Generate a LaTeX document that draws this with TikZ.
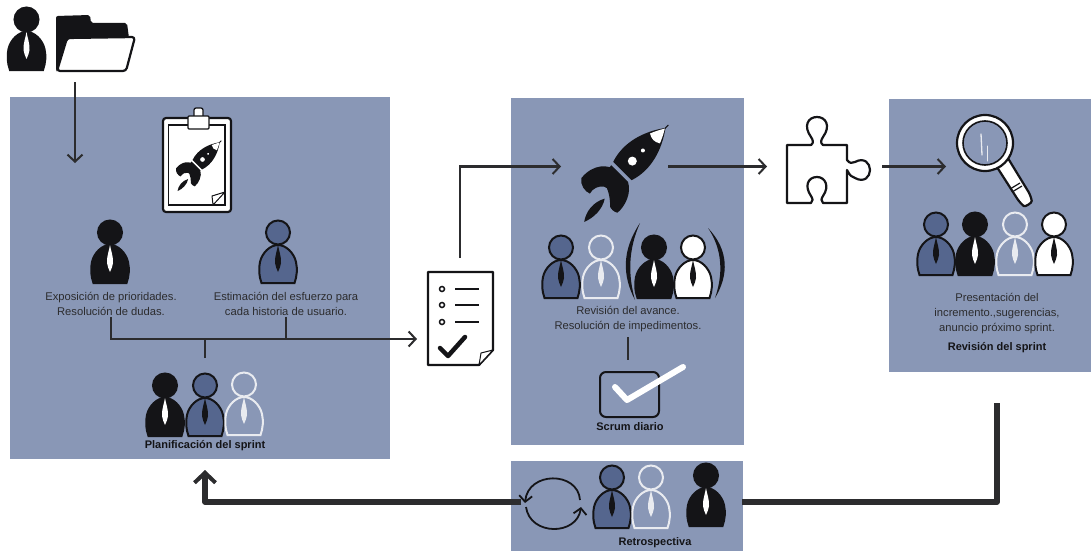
\documentclass[tikz,border=0pt]{standalone}
\usepackage{fontspec}
\setmainfont{Liberation Sans}
\usetikzlibrary{arrows.meta}

\definecolor{panelblue}{HTML}{8997B6}
\definecolor{darkblue}{HTML}{55668E}
\definecolor{ink}{HTML}{141417}
\definecolor{ghost}{HTML}{E9EBF0}

\tikzset{
	panel/.style={fill=panelblue, draw=none, inner sep=0pt, outer sep=0pt},
	iconbox/.style={inner sep=0pt, outer sep=0pt},
	note/.style={font=\fontsize{11.2}{15}\selectfont, text=ink!90, align=center, inner sep=1pt},
	tag/.style={font=\fontsize{11}{12}\selectfont\bfseries, text=ink, inner sep=1pt},
	flow/.style={draw=ink!90, line width=2.2pt, -{Straight Barb[length=7pt,width=15pt,line width=2pt]}},
	tick/.style={draw=ink!90, line width=2pt},
	backflow/.style={draw=ink!90, line width=5.5pt, -{Straight Barb[length=10pt,width=21pt,line width=4pt]}},
	icon/.style={draw=ink, line width=2.2pt, line join=round},
}

% x, y, body, outline, tie
\newcommand{\person}[5]{
	\begin{scope}[shift={(#1,#2)}]
		\draw[fill=#3, draw=#4, line width=2pt] (-16.5,0) .. controls (-19,-7) and (-19.5,-14) .. (-18,-21) .. controls (-16,-30) and (-8,-38) .. (0,-38) .. controls (8,-38) and (16,-30) .. (18,-21) .. controls (19.5,-14) and (19,-7) .. (16.5,0) -- cycle;
		\draw[fill=#3, draw=#4, line width=2pt] (0,-50.5) circle (12);
		\fill[#5] (0,-38) .. controls (-1,-32) and (-3.5,-26) .. (-3,-20) .. controls (-3,-17) and (-1,-14) .. (0,-11) .. controls (1,-14) and (3,-17) .. (3,-20) .. controls (3.5,-26) and (1,-32) .. (0,-38) -- cycle;
	\end{scope}
}
\newcommand{\blackman}[2]{\person{#1}{#2}{ink}{ink}{white}}
\newcommand{\blueman}[2]{\person{#1}{#2}{darkblue}{ink}{ink}}
\newcommand{\ghostman}[2]{\person{#1}{#2}{panelblue}{ghost}{ghost}}
\newcommand{\whiteman}[2]{\person{#1}{#2}{white}{ink}{ink}}

% x, y, size
\newcommand{\rocket}[3]{
	\begin{scope}[shift={(#1,#2)}, rotate=-45, scale=#3]
		\fill[ink] (-13,-1) .. controls (-20,-22) and (-13,-44) .. (0,-62) .. controls (13,-44) and (20,-22) .. (13,-1) -- cycle;
		\draw[ink, line width=1pt] (0,-60) -- (0,-66);
		\fill[white] (0,-61) .. controls (3,-56) and (5,-52) .. (7,-47) .. controls (2,-44) and (-2,-44) .. (-7,-47) .. controls (-5,-52) and (-3,-56) .. (0,-61) -- cycle;
		\fill[white] (0,-15) circle (4.5);
		\fill[white] (0,-30) circle (2);
		\fill[ink] (-12,3) -- (-5,3) .. controls (-14,4) and (-26,14) .. (-24,33) .. controls (-20,39) and (-12,40) .. (-7,38) .. controls (-9,32) and (-6,26) .. (-2,23) -- (1,22) .. controls (6,24) and (12,28) .. (16.5,33) .. controls (19,34) and (23,34) .. (26,32) .. controls (27,22) and (22,8) .. (12,3) -- cycle;
		\fill[ink] (-12,3) -- (12,3) -- (10,20) -- (-8,24) -- cycle;
		\fill[ink] (7,31) .. controls (13,40) and (13,52) .. (9,62) .. controls (3,54) and (1,42) .. (7,31) -- cycle;
	\end{scope}
}

\begin{document}
\begin{tikzpicture}[x=1pt, y=-1pt]
	\useasboundingbox (0,0) rectangle (1091,551);

	\node[panel, minimum width=380pt, minimum height=362pt] (planbox) at (200,278) {};
	\node[panel, minimum width=233pt, minimum height=347pt] (dailybox) at (627.5,271.5) {};
	\node[panel, minimum width=202pt, minimum height=273pt] (reviewbox) at (990,235.5) {};
	\node[panel, minimum width=232pt, minimum height=90pt] (retrobox) at (627,506) {};

	\node[iconbox, minimum width=80pt, minimum height=74pt] (folder) at (75,45) {};
	\node[iconbox, minimum width=86pt, minimum height=162pt] (checklist) at (460,339) {};
	\node[iconbox, minimum width=107pt, minimum height=40pt] (launch) at (614.5,166.5) {};
	\node[iconbox, minimum width=115pt, minimum height=60pt] (puzzle) at (824.5,166.5) {};
	\node[iconbox, minimum width=78pt, minimum height=60pt] (lens) at (985,166.5) {};
	\node[iconbox, minimum width=59pt, minimum height=45pt] (scrumbox) at (629.5,394.5) {};

	\coordinate (folderin) at (75,163);
	\coordinate (planjoin) at (205,358);
	\coordinate (reviewout) at (997,403);
	\coordinate (retroin) at (742,502);
	\coordinate (retroout) at (521,502);
	\coordinate (planin) at (205,470);

	\node[note] (prio) at (111,304) {Exposición de prioridades.\\Resolución de dudas.};
	\node[note] (effort) at (286,304) {Estimación del esfuerzo para\\cada historia de usuario.};
	\node[note] (avance) at (628,319.5) {Revisión del avance.\\Resolución de impedimentos.};
	\node[note] (present) at (997,314) {Presentación del\\incremento.,sugerencias,\\anuncio próximo sprint.};
	\node[tag] (plantag) at (205,446) {Planificación del sprint};
	\node[tag] (scrumtag) at (630,427) {Scrum diario};
	\node[tag] (reviewtag) at (997,348) {Revisión del sprint};
	\node[tag] (retrotag) at (655,543) {Retrospectiva};

	% people
	\blackman{26.5}{70}
	\blackman{110}{283}
	\blueman{278}{283}
	\blackman{165}{436}
	\blueman{205}{436}
	\ghostman{244}{435}
	\blueman{561}{298}
	\ghostman{601}{298}
	\blackman{654}{298}
	\whiteman{693}{298}
	\blueman{936}{275}
	\blackman{975}{275}
	\ghostman{1015}{275}
	\whiteman{1054}{275}
	\blueman{612}{528}
	\ghostman{651}{528}
	\blackman{706}{526}

	\fill[ink] (640,223) .. controls (622,250) and (622,275) .. (635,300) .. controls (628,275) and (628,250) .. (640,223) -- cycle;
	\fill[ink] (708,228) .. controls (729,250) and (729,275) .. (715,298) .. controls (723,275) and (723,250) .. (708,228) -- cycle;

	% folder
	\fill[ink, rounded corners=2pt] (56,16) -- (90,15) -- (91,23) -- (127,23) -- (129,38) -- (67,38) -- (58,71) -- (56,71) -- cycle;
	\draw[icon, fill=white, rounded corners=3pt] (67,38) -- (135,37) -- (126,71) -- (57,71) -- cycle;

	% clipboard
	\draw[icon, fill=white, rounded corners=3pt] (163,118) rectangle (231,212);
	\draw[draw=ink, line width=1.2pt] (168.5,125) rectangle (225,205);
	\draw[icon, line width=1.3pt, fill=white, rounded corners=2pt] (194,108) rectangle (203,118);
	\draw[icon, line width=1.3pt, fill=white, rounded corners=1pt] (188,116) rectangle (209,129);
	\rocket{197}{165}{0.52}
	\draw[draw=ink, line width=1pt, fill=white, line join=round] (225,192) -- (213,205) -- (212,196) -- cycle;

	% big rocket
	\rocket{621.7}{171.7}{1}

	% checklist
	\draw[icon, fill=white] (428,272) -- (493,272) -- (493,350) -- (479,365) -- (428,365) -- cycle;
	\draw[draw=ink, line width=1pt, fill=white, line join=round] (493,350) -- (479,365) -- (481,353) -- cycle;
	\foreach \rowy in {289,305,322} {
		\draw[draw=ink, line width=1.5pt] (442,\rowy) circle (2.5);
		\draw[draw=ink, line width=1.8pt] (455,\rowy) -- (479,\rowy);
	}
	\draw[ink, line width=4.5pt, line cap=round, line join=round] (440,348) -- (448,356) -- (465,337);

	% puzzle
	\draw[icon, fill=white] (787,145) -- (811,145) .. controls (814,143) and (813,140) .. (811,137) .. controls (803,126) and (808,117) .. (817,117) .. controls (826,117) and (831,126) .. (823,137) .. controls (821,140) and (820,143) .. (823,145) -- (847,145) -- (847,160) .. controls (850,164) and (852,163) .. (855,162) .. controls (864,157) and (870,163) .. (870,170) .. controls (870,177) and (864,183) .. (855,178) .. controls (852,177) and (850,176) .. (847,170) -- (847,203) -- (823,203) .. controls (821,201) and (821,199) .. (823,196) .. controls (830,186) and (825,177) .. (817,177) .. controls (808,177) and (804,186) .. (811,196) .. controls (813,199) and (813,201) .. (811,203) -- (787,203) -- cycle;

	% magnifying glass
	\draw[icon, fill=white, rounded corners=5pt] (995,164) -- (1006,155) -- (1031,196) .. controls (1032,203) and (1025,207) .. (1020,203) -- cycle;
	\draw[draw=ink, line width=1.2pt] (1010,189) -- (1020,183);
	\draw[draw=ink, line width=1.2pt] (1012,192) -- (1022,186);
	\draw[icon, fill=white] (985,143) circle (28);
	\draw[draw=ink, line width=1.6pt, fill=panelblue] (985,143) circle (22);
	\draw[ghost, line width=1.3pt, line cap=round] (981,134) -- (982,155);
	\draw[ghost, line width=1pt, line cap=round] (987,146) -- (987,161);

	% scrum check
	\draw[draw=ink, line width=2pt, rounded corners=6pt] (600,372) rectangle (659,417);
	\draw[white, line width=6pt, line cap=round, line join=round] (615,387) -- (627,400) -- (683,367);

	% turning arrows
	\draw[draw=ink, line width=1.8pt, -{Straight Barb[length=6pt,width=13pt,line width=1.8pt]}] (580,500) .. controls (578,471) and (528,471) .. (525,503);
	\draw[draw=ink, line width=1.8pt, -{Straight Barb[length=6pt,width=13pt,line width=1.8pt]}] (526,507) .. controls (530,536) and (577,536) .. (581,507);

	% connectors
	\draw[flow] (folder.south) -- (folderin);
	\draw[flow] (prio.south) |- (checklist.west);
	\draw[tick] (effort.south) -- (effort.south |- checklist.west);
	\draw[tick] (planjoin) -- (planjoin |- checklist.west);
	\draw[flow] (checklist.north) |- (launch.west);
	\draw[flow] (launch.east) -- (puzzle.west);
	\draw[flow] (puzzle.east) -- (lens.west);
	\draw[tick, shorten <=4pt, shorten >=12pt] (avance.south) -- (avance.south |- scrumbox.north);
	\draw[draw=ink!90, line width=5.5pt, line join=round] (reviewout) |- (retroin);
	\draw[backflow, line join=round] (retroout) -| (planin);
\end{tikzpicture}
\end{document}
